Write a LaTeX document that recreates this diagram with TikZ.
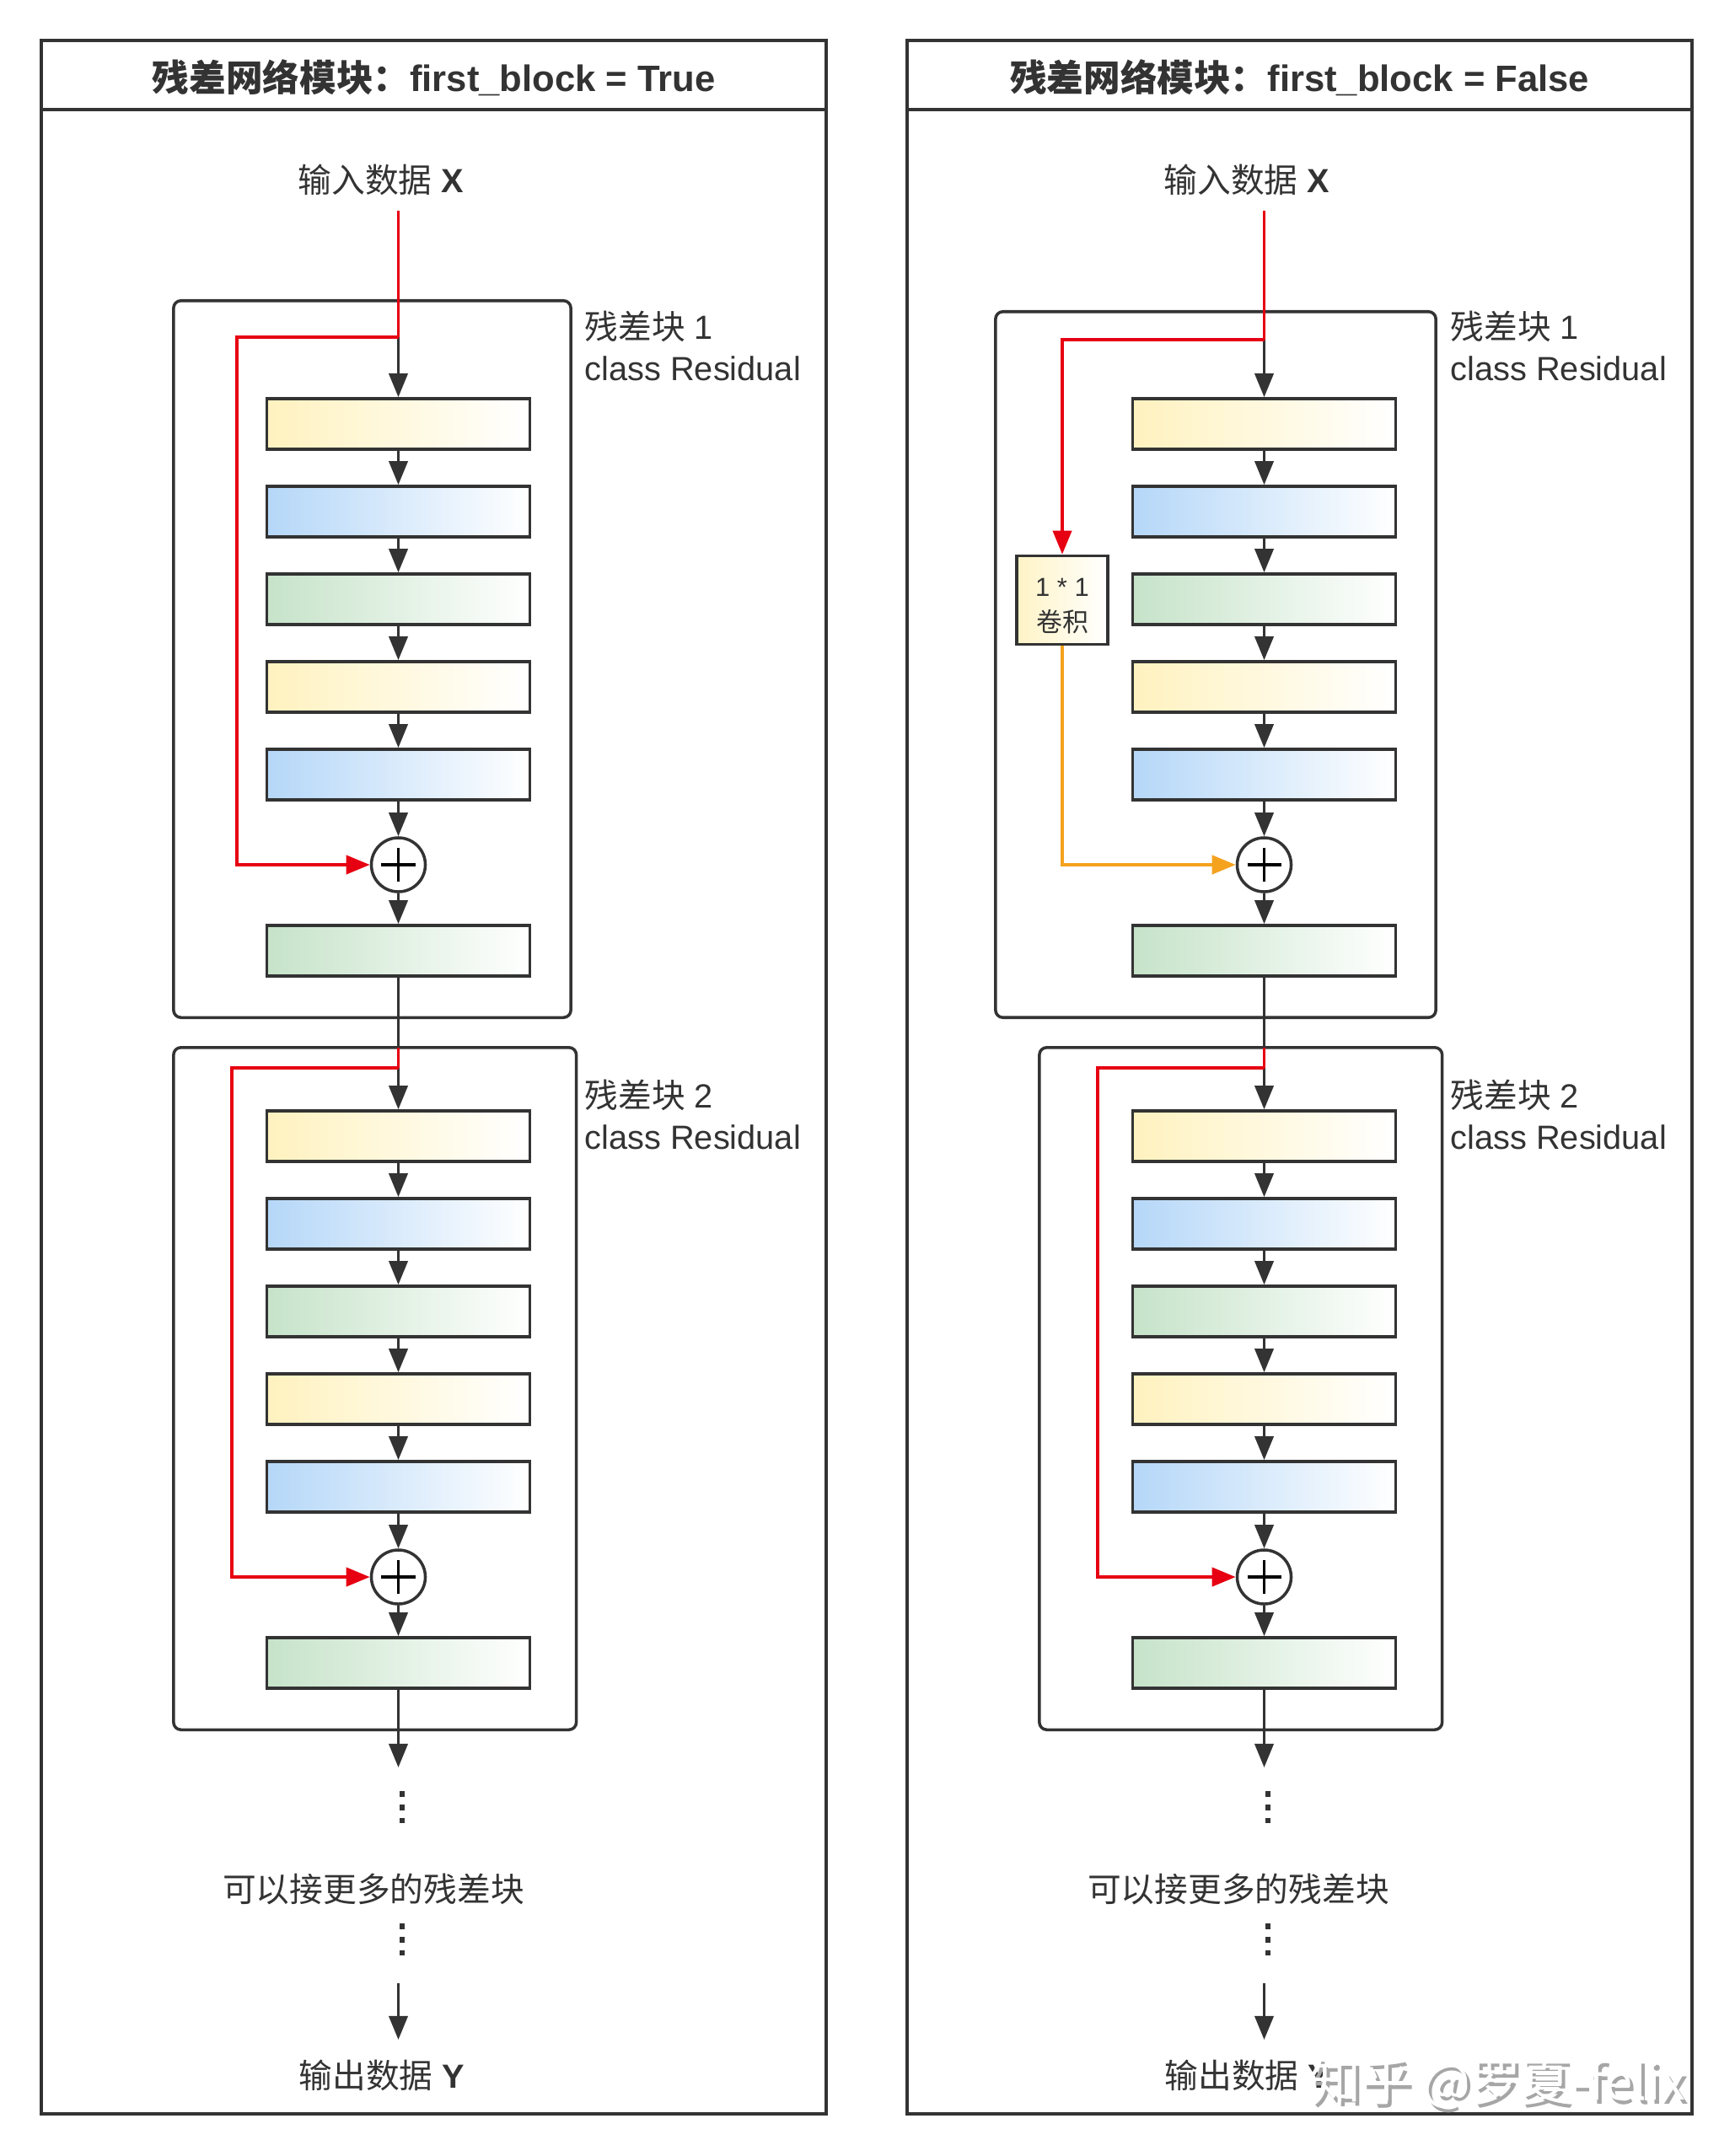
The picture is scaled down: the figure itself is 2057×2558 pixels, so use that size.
\documentclass[tikz,border=0pt]{standalone}
\usepackage{fontspec}
\setmainfont{Liberation Sans}
\newfontfamily\cjk{Noto Sans CJK SC}
\usetikzlibrary{arrows.meta}
\definecolor{ink}{HTML}{333333}
\definecolor{rline}{HTML}{E60012}
\definecolor{oline}{HTML}{F5A21E}
\definecolor{ylw}{HTML}{FFF2BF}
\definecolor{blu}{HTML}{B5D7F8}
\definecolor{grn}{HTML}{C6E3C9}

\newcommand\layerstack[3]{%
  \node[layer,left color=ylw] (#1b1) at (#2,#3) {};
  \node[layer,left color=blu] (#1b2) at (#2,#3+104) {};
  \node[layer,left color=grn] (#1b3) at (#2,#3+208) {};
  \node[layer,left color=ylw] (#1b4) at (#2,#3+312) {};
  \node[layer,left color=blu] (#1b5) at (#2,#3+416) {};
  \node[addnode] (#1add) at (#2,#3+523) {};
  \node[layer,left color=grn] (#1b6) at (#2,#3+625) {};
  \draw[conn] (#1b1) -- (#1b2);
  \draw[conn] (#1b2) -- (#1b3);
  \draw[conn] (#1b3) -- (#1b4);
  \draw[conn] (#1b4) -- (#1b5);
  \draw[conn] (#1b5) -- (#1add);
  \draw[conn] (#1add) -- (#1b6);
}

\begin{document}
\begin{tikzpicture}[x=0.01cm,y=-0.01cm,
  txt/.style={inner sep=0pt, text=ink, font=\fontsize{11.3}{13.5}\selectfont},
  ttl/.style={inner sep=0pt, text=ink, font=\fontsize{12.4}{15}\selectfont\bfseries},
  small/.style={inner sep=0pt, text=ink, font=\fontsize{8.8}{10.2}\selectfont},
  wm/.style={inner sep=0pt, font=\fontsize{17}{20}\selectfont\cjk},
  panelbox/.style={draw=ink, line width=1.1pt, minimum width=9.305cm, minimum height=24.58cm, inner sep=0pt},
  blockbox/.style={draw=ink, line width=1pt, rounded corners=2.5pt, inner sep=0pt},
  layer/.style={draw=ink, line width=1pt, minimum width=3.12cm, minimum height=0.6cm, inner sep=0pt, right color=white},
  addnode/.style={circle, draw=ink, line width=1pt, fill=white, minimum size=0.64cm, inner sep=0pt,
    path picture={\draw[black,line width=1pt]
      ([xshift=-0.2cm]path picture bounding box.center) -- ([xshift=0.2cm]path picture bounding box.center)
      ([yshift=-0.2cm]path picture bounding box.center) -- ([yshift=0.2cm]path picture bounding box.center);}},
  convbox/.style={draw=ink, line width=1pt, minimum width=1.08cm, minimum height=1.05cm, inner sep=0pt, left color=ylw!90, right color=white},
  conn/.style={draw=ink, line width=1pt, -{Triangle[length=8pt,width=6.3pt]}},
  plainline/.style={draw=ink, line width=1pt},
  redline/.style={draw=rline, line width=1.1pt},
  redarrow/.style={draw=rline, line width=1.1pt, -{Triangle[length=8pt,width=6.3pt]}},
  orgarrow/.style={draw=oline, line width=1.1pt, -{Triangle[length=8pt,width=6.3pt]}},
  dotsline/.style={draw=ink, line width=1.7pt, dash pattern=on 1.9pt off 2.6pt},
]
\useasboundingbox (0,0) rectangle (2057,2558);
\fill[white] (0,0) rectangle (2057,2558);

% ================= LEFT PANEL =================
\node[panelbox] (Lpanel) at (514.75,1278) {};
\draw[ink,line width=1.1pt] (49.5,130) -- (980,130);
\node[ttl] (Ltitle) at (514.75,92) {{\cjk 残差网络模块：}first\_block = True};
\node[txt] (Lin) at (452,213) {{\cjk 输入数据} \textbf{X}};

\node[blockbox, minimum width=4.71cm, minimum height=8.5cm] (Lblk1) at (441.5,782) {};
\node[blockbox, minimum width=4.775cm, minimum height=8.09cm] (Lblk2) at (444.75,1647.5) {};
\node[txt, anchor=west] (Llab1a) at (693,387) {{\cjk 残差块} 1};
\node[txt, anchor=west] (Llab1b) at (693,437) {class Residual};
\node[txt, anchor=west] (Llab2a) at (693,1299) {{\cjk 残差块} 2};
\node[txt, anchor=west] (Llab2b) at (693,1349) {class Residual};

\layerstack{La}{472.5}{503}
\layerstack{Lc}{472.5}{1348}

\coordinate (Lstart) at (472.5,250);
\coordinate (Lsp1) at (472.5,400);
\coordinate (Lsk1) at (281,400);
\draw[redline] (Lstart) -- (Lsp1);
\draw[conn] (Lsp1) -- (Lab1);
\draw[redarrow] (Lsp1) -- (Lsk1) |- (Laadd);

\coordinate (Ltop2) at (472.5,1243);
\coordinate (Lsp2) at (472.5,1267);
\coordinate (Lsk2) at (275,1267);
\draw[plainline] (Lab6) -- (Ltop2);
\draw[redline] (Ltop2) -- (Lsp2);
\draw[conn] (Lsp2) -- (Lcb1);
\draw[redarrow] (Lsp2) -- (Lsk2) |- (Lcadd);

\coordinate (Lend) at (472.5,2097);
\draw[conn] (Lcb6) -- (Lend);
\coordinate (Ld1a) at (477,2125);
\coordinate (Ld1b) at (477,2163);
\draw[dotsline] (Ld1a) -- (Ld1b);
\node[txt] (Lmore) at (443,2241) {\cjk 可以接更多的残差块};
\coordinate (Ld2a) at (477,2282);
\coordinate (Ld2b) at (477,2320);
\draw[dotsline] (Ld2a) -- (Ld2b);
\coordinate (Lo1) at (472.5,2353);
\coordinate (Lo2) at (472.5,2420);
\draw[conn] (Lo1) -- (Lo2);
\node[txt] (Lout) at (453,2462) {{\cjk 输出数据} \textbf{Y}};

% ================= RIGHT PANEL =================
\node[panelbox] (Rpanel) at (1541.75,1278) {};
\draw[ink,line width=1.1pt] (1076.5,130) -- (2007,130);
\node[ttl] (Rtitle) at (1541.75,92) {{\cjk 残差网络模块：}first\_block = False};
\node[txt] (Rin) at (1479,213) {{\cjk 输入数据} \textbf{X}};

\node[blockbox, minimum width=5.22cm, minimum height=8.37cm] (Rblk1) at (1442,788.5) {};
\node[blockbox, minimum width=4.775cm, minimum height=8.09cm] (Rblk2) at (1471.75,1647.5) {};
\node[txt, anchor=west] (Rlab1a) at (1720,387) {{\cjk 残差块} 1};
\node[txt, anchor=west] (Rlab1b) at (1720,437) {class Residual};
\node[txt, anchor=west] (Rlab2a) at (1720,1299) {{\cjk 残差块} 2};
\node[txt, anchor=west] (Rlab2b) at (1720,1349) {class Residual};

\layerstack{Ra}{1499.5}{503}
\layerstack{Rc}{1499.5}{1348}

\node[convbox] (Rconv) at (1260,712) {};
\node[small] (Rconvt1) at (1260,697) {1 * 1};
\node[small] (Rconvt2) at (1260,738) {\cjk 卷积};

\coordinate (Rstart) at (1499.5,250);
\coordinate (Rsp1) at (1499.5,403);
\coordinate (Rsk1) at (1260,403);
\draw[redline] (Rstart) -- (Rsp1);
\draw[conn] (Rsp1) -- (Rab1);
\draw[redarrow] (Rsp1) -- (Rsk1) -- (Rconv);
\draw[orgarrow] (Rconv) |- (Raadd);

\coordinate (Rtop2) at (1499.5,1243);
\coordinate (Rsp2) at (1499.5,1267);
\coordinate (Rsk2) at (1302,1267);
\draw[plainline] (Rab6) -- (Rtop2);
\draw[redline] (Rtop2) -- (Rsp2);
\draw[conn] (Rsp2) -- (Rcb1);
\draw[redarrow] (Rsp2) -- (Rsk2) |- (Rcadd);

\coordinate (Rend) at (1499.5,2097);
\draw[conn] (Rcb6) -- (Rend);
\coordinate (Rd1a) at (1504,2125);
\coordinate (Rd1b) at (1504,2163);
\draw[dotsline] (Rd1a) -- (Rd1b);
\node[txt] (Rmore) at (1469,2241) {\cjk 可以接更多的残差块};
\coordinate (Rd2a) at (1504,2282);
\coordinate (Rd2b) at (1504,2320);
\draw[dotsline] (Rd2a) -- (Rd2b);
\coordinate (Ro1) at (1499.5,2353);
\coordinate (Ro2) at (1499.5,2420);
\draw[conn] (Ro1) -- (Ro2);
\node[txt] (Rout) at (1480,2462) {{\cjk 输出数据} \textbf{Y}};

% watermark
\node[wm, text=black!35] (wmshadow) at (1781,2476) {知乎 @罗夏-felix};
\node[wm, text=white] (wmark) at (1777,2471) {知乎 @罗夏-felix};
\end{tikzpicture}
\end{document}
